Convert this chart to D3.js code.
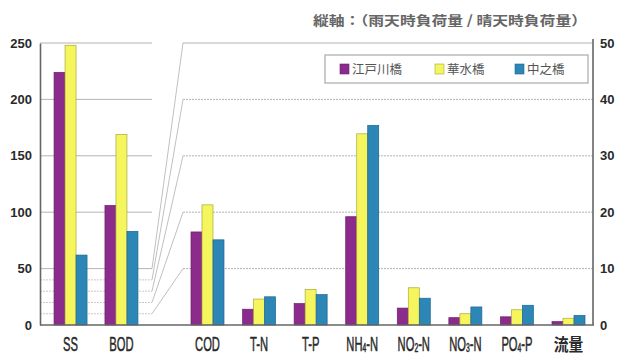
<!DOCTYPE html>
<html>
<head>
<meta charset="utf-8">
<script src="https://cdn.jsdelivr.net/npm/d3@7"></script>
<style>
  html, body { margin: 0; padding: 0; background: #fff; }
  svg { display: block; }
</style>
</head>
<body>
<svg id="chart" width="619" height="356"></svg>
<script>
// Load indices: SS and BOD on the left axis, the rest on the right axis
const leftCategories = ["SS", "BOD"];
const rightCategories = ["COD", "T-N", "T-P", "NH4-N", "NO2-N", "NO3-N", "PO4-P", "流量"];
const seriesNames = ["江戸川橋", "華水橋", "中之橋"];
const edogawa = [224, 106, 16.5, 2.8, 3.8, 19.2, 3.0, 1.3, 1.45, 0.6];
const kasui = [248, 169, 21.3, 4.6, 6.3, 33.9, 6.6, 2.0, 2.7, 1.2];
const nakanohashi = [62, 83, 15.1, 5.0, 5.4, 35.4, 4.75, 3.2, 3.5, 1.7];
const leftTicks = [0, 50, 100, 150, 200, 250];
const rightTicks = [0, 10, 20, 30, 40, 50];
const bridgeTicks = [10, 20, 30, 40, 50];
const colors = ["#8b2b8b", "#f5f55e", "#2c86b6"];
const strokes = ["#6d1f6d", "#a9a93c", "#1f6690"];
const titleText = "縦軸：（雨天時負荷量 / 晴天時負荷量）";

const svg = d3.select("#chart");
const yBase = 325, yTop = 43;
const axisL = 40, leftEnd = 152, rightStart = 183, axisR = 593;

const yL = d3.scaleLinear().domain([0, 250]).range([yBase, yTop]);
const yR = d3.scaleLinear().domain([0, 50]).range([yBase, yTop]);
const xL = d3.scalePoint().domain(leftCategories).range([axisL, leftEnd]).padding(0.6);
const xR = d3.scalePoint().domain(rightCategories).range([rightStart, axisR]).padding(0.475);
const xS = d3.scaleBand().domain(seriesNames).range([-16.5, 16.5]);

const grid = svg.append("g");
// left panel grid lines
grid.selectAll("line.major").data(leftTicks.filter(d => d > 0)).join("line")
  .attr("x1", axisL).attr("x2", leftEnd)
  .attr("y1", d => yL(d)).attr("y2", d => yL(d))
  .attr("stroke", "#b4b4b4").attr("stroke-width", 1);
grid.selectAll("line.minor").data(bridgeTicks.filter(d => d < 50)).join("line")
  .attr("x1", axisL).attr("x2", leftEnd)
  .attr("y1", d => yL(d)).attr("y2", d => yL(d))
  .attr("stroke", "#bbbbbb").attr("stroke-width", 0.8).attr("stroke-dasharray", "2,1");
// connectors from left-scale positions to the right-scale grid
grid.selectAll("line.bridge").data(bridgeTicks).join("line")
  .attr("x1", leftEnd).attr("x2", rightStart)
  .attr("y1", d => yL(d)).attr("y2", d => yR(d))
  .attr("stroke", "#b0b0b0").attr("stroke-width", 0.8);
// right panel grid lines
grid.selectAll("line.right").data(bridgeTicks).join("line")
  .attr("x1", rightStart).attr("x2", axisR)
  .attr("y1", d => yR(d)).attr("y2", d => yR(d))
  .attr("stroke", "#b4b4b4").attr("stroke-width", 1).attr("stroke-dasharray", d => d === 50 ? null : "2,1");

// bars
const allSeries = [edogawa, kasui, nakanohashi];
const allCats = leftCategories.concat(rightCategories);
const bars = [];
allCats.forEach((c, i) => {
  const isLeft = i < leftCategories.length;
  allSeries.forEach((vals, s) => {
    bars.push({ c, s, v: vals[i], isLeft });
  });
});
svg.append("g").selectAll("rect").data(bars).join("rect")
  .attr("x", d => (d.isLeft ? xL(d.c) : xR(d.c)) + xS(seriesNames[d.s]))
  .attr("width", xS.bandwidth())
  .attr("y", d => (d.isLeft ? yL : yR)(d.v))
  .attr("height", d => yBase - (d.isLeft ? yL : yR)(d.v))
  .attr("fill", d => colors[d.s])
  .attr("stroke", d => strokes[d.s]).attr("stroke-width", 0.7);

// axes
const left = svg.append("g").attr("transform", `translate(${axisL},0)`)
  .call(d3.axisLeft(yL).tickValues(leftTicks).tickSize(0).tickPadding(8));
const right = svg.append("g").attr("transform", `translate(${axisR},0)`)
  .call(d3.axisRight(yR).tickValues(rightTicks).tickSize(0).tickPadding(7));
[left, right].forEach(g => {
  g.select(".domain").attr("stroke", "#666").attr("stroke-width", 1.6);
  g.selectAll("text").attr("font-family", "Liberation Sans, Arial, sans-serif")
    .attr("font-weight", "bold").attr("font-size", 13).attr("fill", "#2a2a2a");
});
right.select(".domain").attr("d", `M0,${yTop - 4}V${yBase}`);
svg.append("line").attr("x1", axisL).attr("x2", axisR + 1)
  .attr("y1", yBase).attr("y2", yBase).attr("stroke", "#666").attr("stroke-width", 1.6);

// category labels (condensed)
function drawLabel(cat, x) {
  const g = svg.append("g").attr("transform", `translate(${x},351) scale(0.56,1)`);
  const t = g.append("text").attr("text-anchor", "middle")
    .attr("font-family", "Liberation Sans, Arial, 'Noto Sans CJK JP', sans-serif")
    .attr("font-size", 20).attr("fill", "#2a2a2a")
    .attr("stroke", "#2a2a2a").attr("stroke-width", 0.5);
  const m = cat.match(/^([A-Z]+)(\d)(-.*)$/);
  if (m) {
    t.append("tspan").text(m[1]);
    t.append("tspan").text(m[2]).attr("font-size", 12).attr("dy", 1);
    t.append("tspan").text(m[3]).attr("dy", -1);
  } else if (cat === "流量") {
    t.attr("font-family", "'Noto Sans CJK JP', sans-serif").attr("font-size", 17)
      .attr("stroke", null).attr("font-weight", "bold")
      .attr("transform", "scale(1.55,1)").text(cat);
  } else {
    t.text(cat);
  }
}
leftCategories.forEach(c => drawLabel(c, xL(c)));
rightCategories.forEach(c => drawLabel(c, xR(c)));

// title
svg.append("text").attr("x", 313).attr("y", 25)
  .attr("font-family", "'Noto Sans CJK JP', sans-serif").attr("font-size", 13)
  .attr("font-weight", "bold")
  .attr("fill", "#666").attr("textLength", 274).attr("lengthAdjust", "spacingAndGlyphs")
  .text(titleText);

// legend
const lg = svg.append("g");
lg.append("rect").attr("x", 325).attr("y", 55).attr("width", 263).attr("height", 28)
  .attr("fill", "#fff").attr("stroke", "#aaa").attr("stroke-width", 1.2);
const legendX = [340, 435, 515];
seriesNames.forEach((n, i) => {
  lg.append("rect").attr("x", legendX[i]).attr("y", 64).attr("width", 9).attr("height", 10)
    .attr("fill", colors[i]).attr("stroke", strokes[i]).attr("stroke-width", 0.6);
  lg.append("text").attr("x", legendX[i] + 12).attr("y", 74)
    .attr("font-family", "'Noto Sans CJK JP', sans-serif").attr("font-size", 12.5)
    .attr("fill", "#555").text(n);
});
</script>
</body>
</html>
